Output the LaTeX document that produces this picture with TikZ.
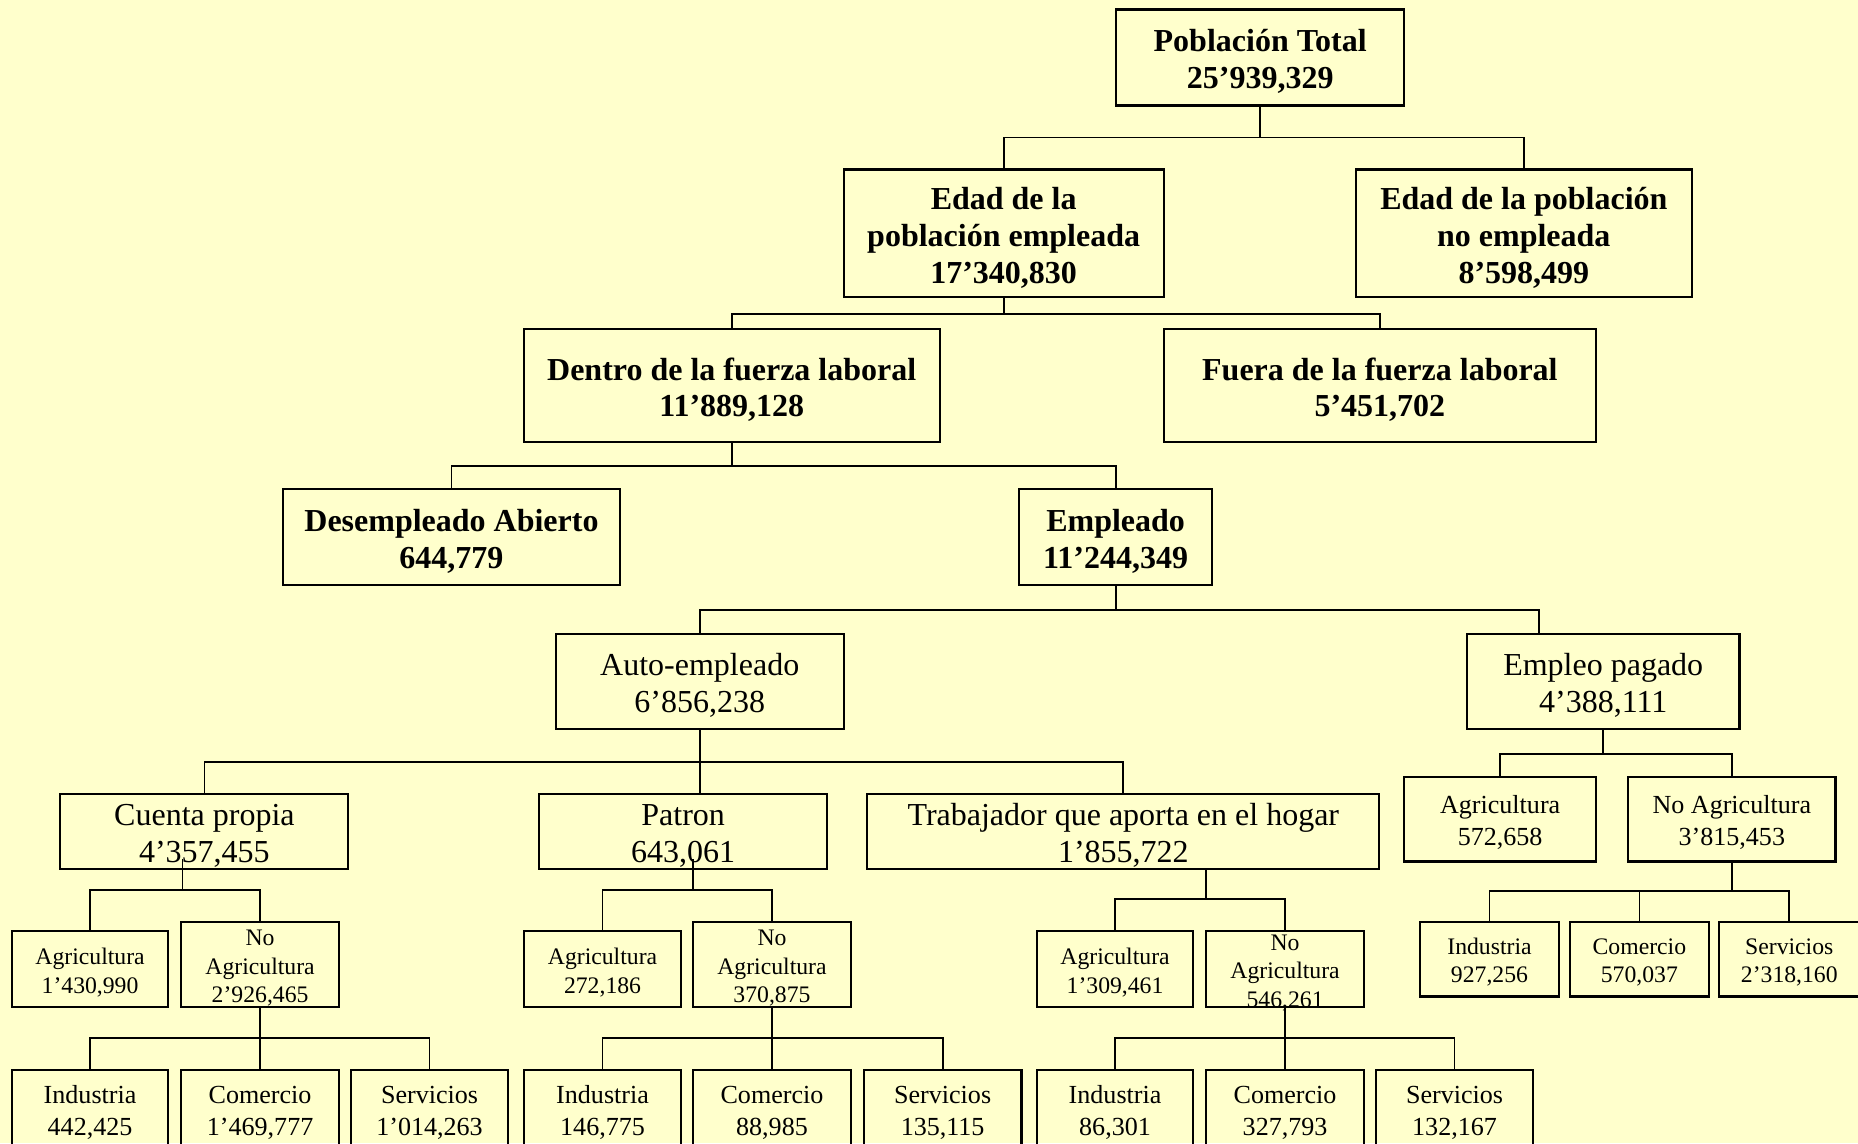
\documentclass[tikz,border=0pt]{standalone}
\usepackage{fontspec}
\setmainfont{Liberation Serif}
\definecolor{bgyellow}{HTML}{FFFFCC}
\newcommand\tstrut{\rule{0pt}{0.96em}}
\tikzset{
  box/.style={draw=black, line width=1.8pt, inner sep=0pt, align=center},
  bigb/.style={font=\fontsize{27}{31}\selectfont\bfseries},
  big/.style={font=\fontsize{27}{31}\selectfont},
  med/.style={font=\fontsize{22}{27}\selectfont},
  sml/.style={font=\fontsize{20}{24}\selectfont},
  conn/.style={line width=1.5pt, draw=black},
}
\begin{document}
\begin{tikzpicture}[x=1pt,y=-1pt]
\fill[bgyellow] (0,0) rectangle (1568,965);
\useasboundingbox (0,0) rectangle (1568,965);

% level 1-4
\node[box,bigb,minimum width=243,minimum height=81] (tot) at (1063.5,48.5) {\tstrut Población Total\\25’939,329};
\node[box,bigb,minimum width=270,minimum height=108] (ede) at (847,197) {\tstrut Edad de la\\población empleada\\17’340,830};
\node[box,bigb,minimum width=284,minimum height=108] (edn) at (1286,197) {\tstrut Edad de la población\\no empleada\\8’598,499};
\node[box,bigb,minimum width=351,minimum height=95] (den) at (617.5,325.5) {\tstrut Dentro de la fuerza laboral\\11’889,128};
\node[box,bigb,minimum width=365,minimum height=95] (fue) at (1164.5,325.5) {\tstrut Fuera de la fuerza laboral\\5’451,702};
\node[box,bigb,minimum width=284,minimum height=81] (des) at (381,453.5) {\tstrut Desempleado Abierto\\644,779};
\node[box,bigb,minimum width=163,minimum height=81] (emp) at (941.5,453.5) {\tstrut Empleado\\11’244,349};

% level 5-6
\node[box,big,minimum width=243,minimum height=80] (aut) at (590.5,575) {\tstrut Auto-empleado\\6’856,238};
\node[box,big,minimum width=230,minimum height=80] (pag) at (1353,575) {\tstrut Empleo pagado\\4’388,111};
\node[box,big,minimum width=243,minimum height=63] (cue) at (172.5,701.5) {\tstrut Cuenta propia\\4’357,455};
\node[box,big,minimum width=243,minimum height=63] (pat) at (576.5,701.5) {\tstrut Patron\\643,061};
\node[box,big,minimum width=432,minimum height=63] (tra) at (948,701.5) {\tstrut Trabajador que aporta en el hogar\\1’855,722};

% empleo pagado branch
\node[box,med,minimum width=162,minimum height=71] (pa1) at (1266,691.5) {\tstrut Agricultura\\572,658};
\node[box,med,minimum width=175,minimum height=71] (pa2) at (1461.5,691.5) {\tstrut No Agricultura\\3’815,453};
\node[box,sml,minimum width=118,minimum height=63] (pi) at (1257,809.5) {\tstrut Industria\\927,256};
\node[box,sml,minimum width=117,minimum height=63] (pc) at (1383.5,809.5) {\tstrut Comercio\\570,037};
\node[box,sml,minimum width=118,minimum height=63] (ps) at (1510,809.5) {\tstrut Servicios\\2’318,160};

% cuenta propia branch
\node[box,sml,minimum width=132,minimum height=64] (ca) at (76,818) {\tstrut Agricultura\\1’430,990};
\node[box,sml,minimum width=133,minimum height=72] (cn) at (219.5,814) {\tstrut No\\Agricultura\\2’926,465};
\node[box,med,minimum width=132,minimum height=66] (ci) at (76,936) {\tstrut Industria\\442,425};
\node[box,med,minimum width=133,minimum height=66] (cc) at (219.5,936) {\tstrut Comercio\\1’469,777};
\node[box,med,minimum width=133,minimum height=66] (cs) at (362.5,936) {\tstrut Servicios\\1’014,263};

% patron branch
\node[box,sml,minimum width=133,minimum height=64] (pta) at (508.5,818) {\tstrut Agricultura\\272,186};
\node[box,sml,minimum width=133,minimum height=72] (ptn) at (651.5,814) {\tstrut No\\Agricultura\\370,875};
\node[box,med,minimum width=133,minimum height=66] (pti) at (508.5,936) {\tstrut Industria\\146,775};
\node[box,med,minimum width=133,minimum height=66] (ptc) at (651.5,936) {\tstrut Comercio\\88,985};
\node[box,med,minimum width=133,minimum height=66] (pts) at (795.5,936) {\tstrut Servicios\\135,115};

% trabajador branch
\node[box,sml,minimum width=132,minimum height=64] (ta) at (941,818) {\tstrut Agricultura\\1’309,461};
\node[box,sml,minimum width=133,minimum height=64,text height=64pt,text depth=0pt] (tn) at (1084.5,818) {\tstrut No\\Agricultura\\546,261};
\node[box,med,minimum width=132,minimum height=66] (ti) at (941,936) {\tstrut Industria\\86,301};
\node[box,med,minimum width=133,minimum height=66] (tc) at (1084.5,936) {\tstrut Comercio\\327,793};
\node[box,med,minimum width=133,minimum height=66] (ts) at (1227.5,936) {\tstrut Servicios\\132,167};

% bar levels and offset ports
\coordinate (b1) at (0,116);
\coordinate (b2) at (0,265);
\coordinate (b3) at (0,393);
\coordinate (b4) at (0,515);
\coordinate (b5) at (0,643);
\coordinate (b6) at (0,636);
\coordinate (b7) at (0,752);
\coordinate (b8) at (0,751);
\coordinate (b9) at (0,876);
\coordinate (b10) at (0,751);
\coordinate (b11) at (0,876);
\coordinate (b12) at (0,759);
\coordinate (b13) at (0,876);
\coordinate (pagin) at (1299,535);
\coordinate (cueout) at (154,725);
\coordinate (patout) at (585,725);
\coordinate (traout) at (1018,733);

% connectors
\draw[conn] (tot.south) -- (tot.south |- b1);
\draw[conn] (ede.north) |- (b1 -| edn.north) -- (edn.north);

\draw[conn] (ede.south) -- (ede.south |- b2);
\draw[conn] (den.north) |- (b2 -| fue.north) -- (fue.north);

\draw[conn] (den.south) -- (den.south |- b3);
\draw[conn] (des.north) |- (b3 -| emp.north) -- (emp.north);

\draw[conn] (emp.south) -- (emp.south |- b4);
\draw[conn] (aut.north) |- (b4 -| pagin) -- (pagin);

\draw[conn] (aut.south) -- (aut.south |- pat.north);
\draw[conn] (cue.north) |- (b5 -| tra.north) -- (tra.north);

\draw[conn] (pag.south) -- (pag.south |- b6);
\draw[conn] (pa1.north) |- (b6 -| pa2.north) -- (pa2.north);

\draw[conn] (pa2.south) -- (pa2.south |- b7);
\draw[conn] (pi.north) |- (b7 -| ps.north) -- (ps.north);
\draw[conn] (pc.north) -- (pc.north |- b7);

\draw[conn] (cueout) -- (cueout |- b8);
\draw[conn] (ca.north) |- (b8 -| cn.north) -- (cn.north);

\draw[conn] (cn.south) -- (cn.south |- b9);
\draw[conn] (ci.north) |- (b9 -| cs.north) -- (cs.north);
\draw[conn] (cc.north) -- (cc.north |- b9);

\draw[conn] (patout) -- (patout |- b10);
\draw[conn] (pta.north) |- (b10 -| ptn.north) -- (ptn.north);

\draw[conn] (ptn.south) -- (ptn.south |- b11);
\draw[conn] (pti.north) |- (b11 -| pts.north) -- (pts.north);
\draw[conn] (ptc.north) -- (ptc.north |- b11);

\draw[conn] (traout) -- (traout |- b12);
\draw[conn] (ta.north) |- (b12 -| tn.north) -- (tn.north);

\draw[conn] (tn.south) -- (tn.south |- b13);
\draw[conn] (ti.north) |- (b13 -| ts.north) -- (ts.north);
\draw[conn] (tc.north) -- (tc.north |- b13);
\end{tikzpicture}
\end{document}
